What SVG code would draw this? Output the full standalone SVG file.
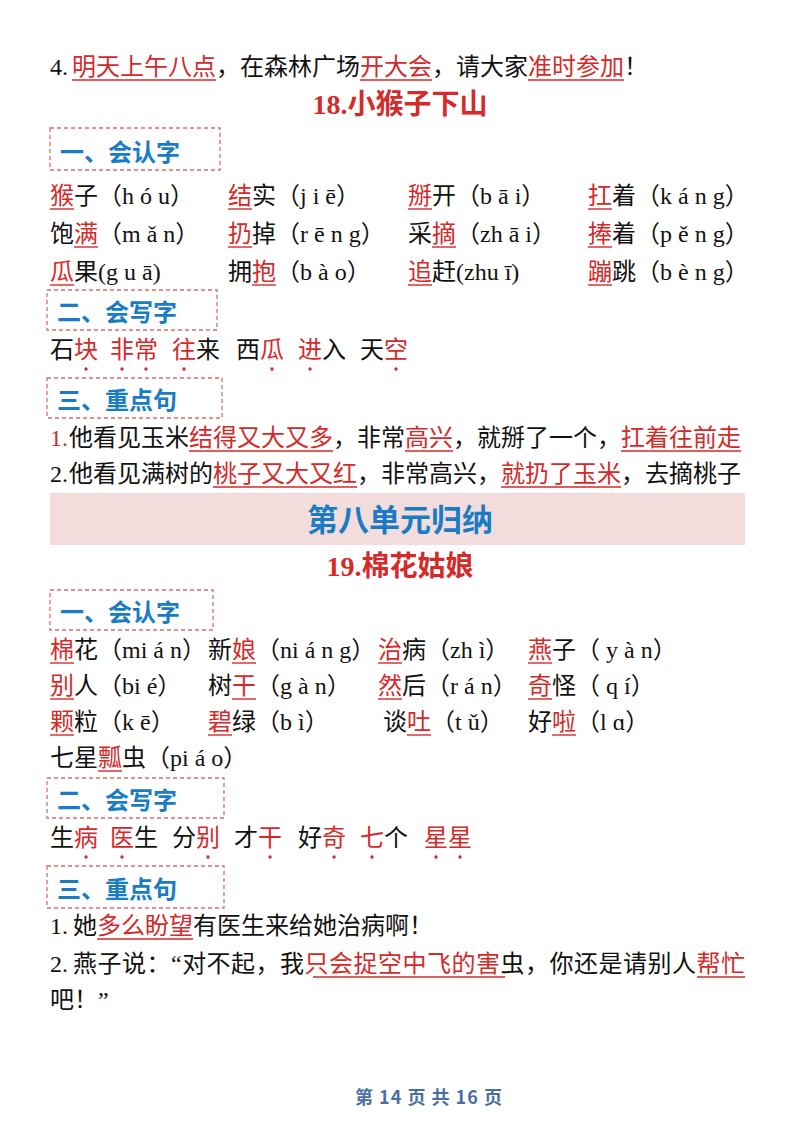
<svg xmlns="http://www.w3.org/2000/svg" width="800" height="1132" viewBox="0 0 800 1132">
<style>
text{font-family:"Liberation Serif","Noto Sans CJK SC",serif;font-size:24px;fill:#111}
.r{fill:#d42a2a}
.t{font-size:28px;font-weight:bold;fill:#d42a2a;text-anchor:middle}
.h{font-family:"Noto Sans CJK SC",sans-serif;font-size:24px;font-weight:bold;fill:#1a7cc4}
.box{fill:none;stroke:#e06a6a;stroke-width:1.3;stroke-dasharray:4 3}
.u line{stroke:#d42a2a;stroke-width:1.4}
.d circle{fill:#d42a2a}
</style>
<rect width="800" height="1132" fill="#fff"/>
<g id="s18">
<text x="50" y="75">4. <tspan x="72" class="r">明天上午八点</tspan><tspan>，在森林广场</tspan><tspan class="r">开大会</tspan><tspan>，请大家</tspan><tspan class="r">准时参加</tspan><tspan>！</tspan></text>
<text class="t" x="400" y="114">18.小猴子下山</text>
<rect class="box" x="50" y="128" width="170" height="42"/><text class="h" x="60" y="161">一、会认字</text>
<text x="50" y="204"><tspan class="r">猴</tspan>子（h ó u）</text>
<text x="228" y="204"><tspan class="r">结</tspan>实（j i ē）</text>
<text x="408" y="204"><tspan class="r">掰</tspan>开（b ā i）</text>
<text x="588" y="204"><tspan class="r">扛</tspan>着（k á n g）</text>
<text x="50" y="242">饱<tspan class="r">满</tspan>（m ǎ n）</text>
<text x="228" y="242"><tspan class="r">扔</tspan>掉（r ē n g）</text>
<text x="408" y="242">采<tspan class="r">摘</tspan>（zh ā i）</text>
<text x="588" y="242"><tspan class="r">捧</tspan>着（p ě n g）</text>
<text x="50" y="280"><tspan class="r">瓜</tspan>果(g u ā)</text>
<text x="228" y="280">拥<tspan class="r">抱</tspan>（b à o）</text>
<text x="408" y="280"><tspan class="r">追</tspan>赶(zhu ī)</text>
<text x="588" y="280"><tspan class="r">蹦</tspan>跳（b è n g）</text>
<rect class="box" x="47" y="290" width="170" height="40"/><text class="h" x="57" y="321">二、会写字</text>
<text x="50" y="358">石<tspan class="r">块</tspan></text>
<text x="110" y="358" class="r">非常</text>
<text x="172" y="358"><tspan class="r">往</tspan>来</text>
<text x="236" y="358">西<tspan class="r">瓜</tspan></text>
<text x="298" y="358"><tspan class="r">进</tspan>入</text>
<text x="360" y="358">天<tspan class="r">空</tspan></text>
<rect class="box" x="47" y="378" width="175" height="40"/><text class="h" x="57" y="409">三、重点句</text>
<text x="50" y="446"><tspan class="r">1.</tspan></text>
<text x="69" y="446">他看见玉米<tspan class="r">结得又大又多</tspan>，非常<tspan class="r">高兴</tspan>，就掰了一个，<tspan class="r">扛着往前走</tspan></text>
<text x="50" y="482">2.</text>
<text x="69" y="482">他看见满树的<tspan class="r">桃子又大又红</tspan>，非常高兴，<tspan class="r">就扔了玉米</tspan>，去摘桃子</text>
</g>
<g id="banner">
<rect x="50" y="493" width="695" height="52" fill="#f2dcdc"/>
<text x="400" y="531" style="font-family:'Noto Sans CJK SC',sans-serif;font-size:31px;font-weight:bold;fill:#1a7cc4;text-anchor:middle">第八单元归纳</text>
</g>
<g id="s19">
<text class="t" x="400" y="576">19.棉花姑娘</text>
<rect class="box" x="50" y="590" width="163" height="40"/><text class="h" x="60" y="621">一、会认字</text>
<text x="50" y="658"><tspan class="r">棉</tspan>花（mi á n）</text>
<text x="208" y="658">新<tspan class="r">娘</tspan>（ni á n g）</text>
<text x="378" y="658"><tspan class="r">治</tspan>病（zh ì）</text>
<text x="528" y="658"><tspan class="r">燕</tspan>子（ y à n）</text>
<text x="50" y="694"><tspan class="r">别</tspan>人（bi é）</text>
<text x="208" y="694">树<tspan class="r">干</tspan>（g à n）</text>
<text x="378" y="694"><tspan class="r">然</tspan>后（r á n）</text>
<text x="528" y="694"><tspan class="r">奇</tspan>怪（ q í）</text>
<text x="50" y="730"><tspan class="r">颗</tspan>粒（k ē）</text>
<text x="208" y="730"><tspan class="r">碧</tspan>绿（b ì）</text>
<text x="383" y="730">谈<tspan class="r">吐</tspan>（t ǔ）</text>
<text x="528" y="730">好<tspan class="r">啦</tspan>（l ɑ）</text>
<text x="50" y="766">七星<tspan class="r">瓢</tspan>虫（pi á o）</text>
<rect class="box" x="47" y="778" width="177" height="40"/><text class="h" x="57" y="809">二、会写字</text>
<text x="50" y="846">生<tspan class="r">病</tspan></text>
<text x="110" y="846"><tspan class="r">医</tspan>生</text>
<text x="172" y="846">分<tspan class="r">别</tspan></text>
<text x="234" y="846">才<tspan class="r">干</tspan></text>
<text x="298" y="846">好<tspan class="r">奇</tspan></text>
<text x="360" y="846"><tspan class="r">七</tspan>个</text>
<text x="424" y="846" class="r">星星</text>
<rect class="box" x="47" y="866" width="177" height="42"/><text class="h" x="57" y="898">三、重点句</text>
<text x="50" y="934">1. <tspan x="73">她</tspan><tspan class="r">多么盼望</tspan>有医生来给她治病啊！</text>
<text x="50" y="972">2.</text>
<text x="73" y="972" textLength="672" lengthAdjust="spacing">燕子说：“对不起，我<tspan class="r">只会捉空中飞的害</tspan>虫，你还是请别人<tspan class="r">帮忙</tspan></text>
<text x="50" y="1008">吧！”</text>
</g>
<g id="connectors" class="u">
<line x1="72" y1="80" x2="216" y2="80"/><line x1="360" y1="80" x2="432" y2="80"/><line x1="528" y1="80" x2="624" y2="80"/>
<line x1="50" y1="209" x2="74" y2="209"/><line x1="228" y1="209" x2="252" y2="209"/><line x1="408" y1="209" x2="432" y2="209"/><line x1="588" y1="209" x2="612" y2="209"/>
<line x1="74" y1="247" x2="98" y2="247"/><line x1="228" y1="247" x2="252" y2="247"/><line x1="432" y1="247" x2="456" y2="247"/><line x1="588" y1="247" x2="612" y2="247"/>
<line x1="50" y1="285" x2="74" y2="285"/><line x1="252" y1="285" x2="276" y2="285"/><line x1="408" y1="285" x2="432" y2="285"/><line x1="588" y1="285" x2="612" y2="285"/>
<line x1="189" y1="451" x2="333" y2="451"/><line x1="405" y1="451" x2="453" y2="451"/><line x1="621" y1="451" x2="741" y2="451"/>
<line x1="213" y1="487" x2="357" y2="487"/><line x1="501" y1="487" x2="621" y2="487"/>
<line x1="50" y1="663" x2="74" y2="663"/><line x1="232" y1="663" x2="256" y2="663"/><line x1="378" y1="663" x2="402" y2="663"/><line x1="528" y1="663" x2="552" y2="663"/>
<line x1="50" y1="699" x2="74" y2="699"/><line x1="232" y1="699" x2="256" y2="699"/><line x1="378" y1="699" x2="402" y2="699"/><line x1="528" y1="699" x2="552" y2="699"/>
<line x1="50" y1="735" x2="74" y2="735"/><line x1="208" y1="735" x2="232" y2="735"/><line x1="407" y1="735" x2="431" y2="735"/><line x1="552" y1="735" x2="576" y2="735"/>
<line x1="98" y1="771" x2="122" y2="771"/>
<line x1="97" y1="939" x2="193" y2="939"/>
<line x1="313" y1="977" x2="505" y2="977"/><line x1="697" y1="977" x2="745" y2="977"/>
</g>
<g id="dots" class="d">
<circle cx="86" cy="369" r="1.7"/><circle cx="122" cy="369" r="1.7"/><circle cx="146" cy="369" r="1.7"/><circle cx="184" cy="369" r="1.7"/><circle cx="272" cy="369" r="1.7"/><circle cx="310" cy="369" r="1.7"/><circle cx="396" cy="369" r="1.7"/>
<circle cx="86" cy="857" r="1.7"/><circle cx="122" cy="857" r="1.7"/><circle cx="208" cy="857" r="1.7"/><circle cx="270" cy="857" r="1.7"/><circle cx="334" cy="857" r="1.7"/><circle cx="372" cy="857" r="1.7"/><circle cx="436" cy="857" r="1.7"/><circle cx="460" cy="857" r="1.7"/>
</g>
<text x="429" y="1104" style="font-family:'Noto Sans CJK SC',sans-serif;font-size:18px;font-weight:bold;fill:#4a6fa0;text-anchor:middle;letter-spacing:1px">第 14 页 共 16 页</text>
</svg>
